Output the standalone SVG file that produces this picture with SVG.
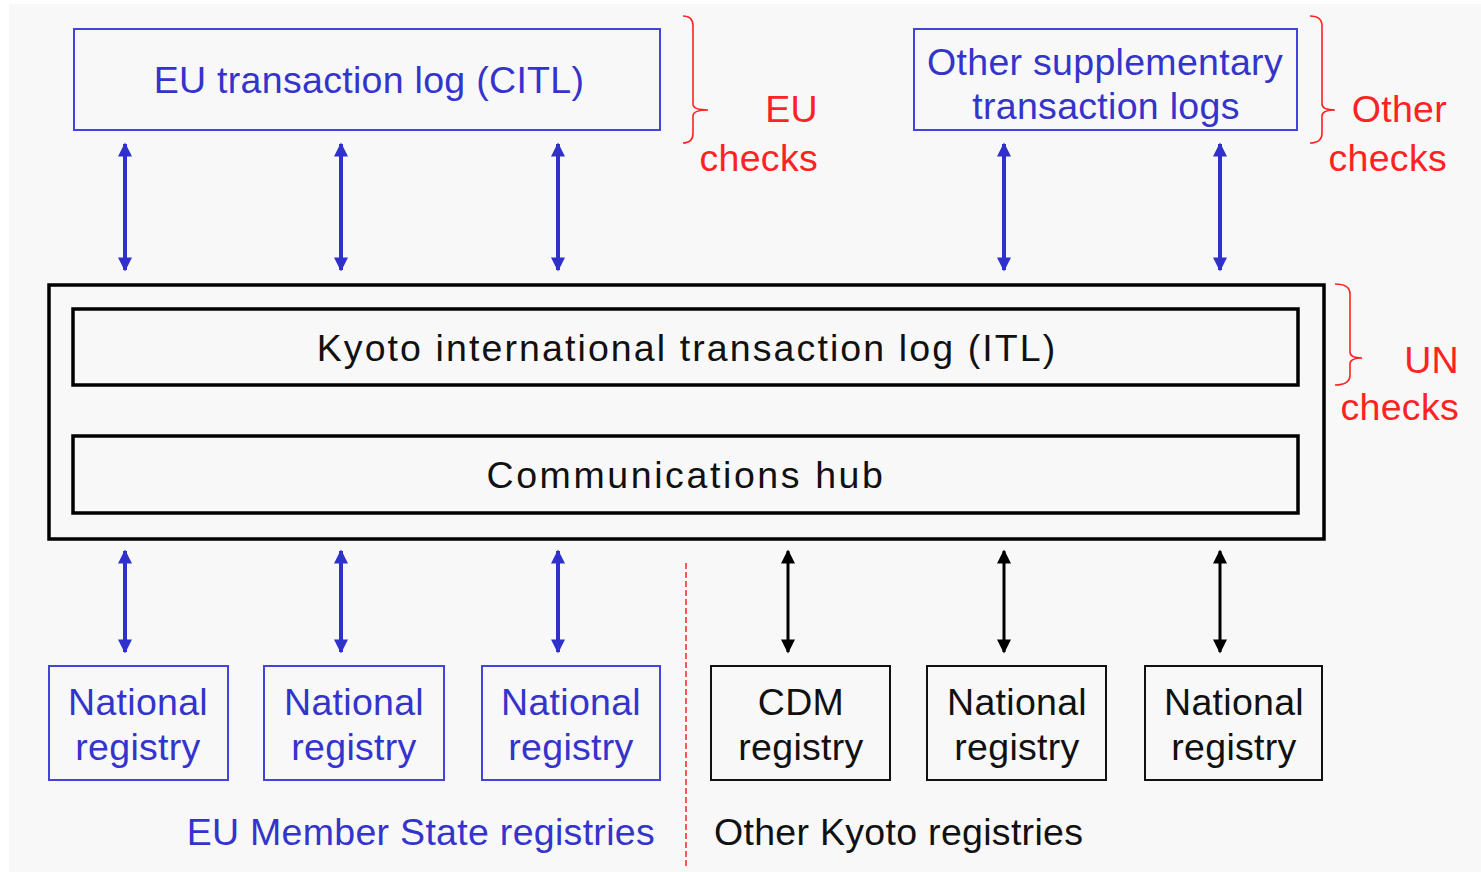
<svg xmlns="http://www.w3.org/2000/svg" width="1481" height="872" viewBox="0 0 1481 872">
<style>
text{font-family:"Liberation Sans",Arial,sans-serif;font-size:37.5px;letter-spacing:0.3px}
.bt{fill:#3434cc}
.kt{fill:#111}
.rt{fill:#ff2222}
.mid{text-anchor:middle}
.bb{fill:none;stroke:#4444dd;stroke-width:2}
.kb{fill:none;stroke:#111;stroke-width:2}
.kb3{fill:none;stroke:#000;stroke-width:3.5}
.brace{fill:none;stroke:#ff2222;stroke-width:1.6}
.ab{stroke:#3030cc;stroke-width:4;marker-start:url(#hb);marker-end:url(#hb)}
.ak{stroke:#000;stroke-width:3;marker-start:url(#hk);marker-end:url(#hk)}
</style>
<defs>
<marker id="hb" viewBox="0 0 10 10" refX="9" refY="5" markerWidth="15" markerHeight="14" markerUnits="userSpaceOnUse" orient="auto-start-reverse"><path d="M0,0 L10,5 L0,10 Z" fill="#3030cc"/></marker>
<marker id="hk" viewBox="0 0 10 10" refX="9" refY="5" markerWidth="15" markerHeight="14" markerUnits="userSpaceOnUse" orient="auto-start-reverse"><path d="M0,0 L10,5 L0,10 Z" fill="#000"/></marker>
</defs>
<rect x="0" y="0" width="1481" height="872" fill="#fff"/>
<rect x="9" y="4" width="1472" height="868" fill="#f8f8f8"/>

<g id="citl"><rect class="bb" x="74" y="29" width="586" height="101"/><text class="bt mid" x="369" y="93">EU transaction log (CITL)</text></g>
<g id="other-logs"><rect class="bb" x="914" y="29" width="383" height="101"/><text class="bt mid" x="1105" y="75">Other supplementary</text><text class="bt mid" x="1106" y="119">transaction logs</text></g>

<g id="eu-checks"><path class="brace" d="M683,16 Q693,16 693,26 L693,104 Q693,110 708,110 Q693,110 693,116 L693,133 Q693,143 683,143"/><text class="rt" x="818" y="122" text-anchor="end">EU</text><text class="rt" x="818" y="171" text-anchor="end">checks</text></g>
<g id="other-checks"><path class="brace" d="M1310,16 Q1322,16 1322,26 L1322,104 Q1322,110 1335,110 Q1322,110 1322,116 L1322,133 Q1322,143 1310,143"/><text class="rt" x="1447" y="122" text-anchor="end">Other</text><text class="rt" x="1447" y="171" text-anchor="end">checks</text></g>
<g id="un-checks"><path class="brace" d="M1335,284 Q1350,284 1350,294 L1350,352 Q1350,358 1362,358 Q1350,358 1350,364 L1350,375 Q1350,385 1335,385"/><text class="rt" x="1459" y="373" text-anchor="end">UN</text><text class="rt" x="1459" y="420" text-anchor="end">checks</text></g>

<g id="itl-system"><rect class="kb3" x="49" y="285" width="1275" height="254"/></g>
<g id="itl"><rect class="kb3" x="73" y="309" width="1225" height="76"/><text class="kt mid" x="687" y="361" style="letter-spacing:2.1px">Kyoto international transaction log (ITL)</text></g>
<g id="hub"><rect class="kb3" x="73" y="436" width="1225" height="77"/><text class="kt mid" x="686" y="488" style="letter-spacing:2.6px">Communications hub</text></g>

<g id="reg-eu-1"><rect class="bb" x="49" y="666" width="179" height="114"/><text class="bt mid" x="138" y="715">National</text><text class="bt mid" x="138" y="760">registry</text></g>
<g id="reg-eu-2"><rect class="bb" x="264" y="666" width="180" height="114"/><text class="bt mid" x="354" y="715">National</text><text class="bt mid" x="354" y="760">registry</text></g>
<g id="reg-eu-3"><rect class="bb" x="482" y="666" width="178" height="114"/><text class="bt mid" x="571" y="715">National</text><text class="bt mid" x="571" y="760">registry</text></g>
<g id="reg-cdm"><rect class="kb" x="711" y="666" width="179" height="114"/><text class="kt mid" x="801" y="715">CDM</text><text class="kt mid" x="801" y="760">registry</text></g>
<g id="reg-other-1"><rect class="kb" x="927" y="666" width="179" height="114"/><text class="kt mid" x="1017" y="715">National</text><text class="kt mid" x="1017" y="760">registry</text></g>
<g id="reg-other-2"><rect class="kb" x="1145" y="666" width="177" height="114"/><text class="kt mid" x="1234" y="715">National</text><text class="kt mid" x="1234" y="760">registry</text></g>

<g id="labels"><text class="bt" x="655" y="845" text-anchor="end">EU Member State registries</text><text class="kt" x="714" y="845">Other Kyoto registries</text></g>

<g id="connectors">
<line class="ab" x1="125" y1="144" x2="125" y2="270"/>
<line class="ab" x1="341" y1="144" x2="341" y2="270"/>
<line class="ab" x1="558" y1="144" x2="558" y2="270"/>
<line class="ab" x1="1004" y1="144" x2="1004" y2="270"/>
<line class="ab" x1="1220" y1="144" x2="1220" y2="270"/>
<line class="ab" x1="125" y1="551" x2="125" y2="652"/>
<line class="ab" x1="341" y1="551" x2="341" y2="652"/>
<line class="ab" x1="558" y1="551" x2="558" y2="652"/>
<line class="ak" x1="788" y1="551" x2="788" y2="652"/>
<line class="ak" x1="1004" y1="551" x2="1004" y2="652"/>
<line class="ak" x1="1220" y1="551" x2="1220" y2="652"/>
<line x1="686" y1="563" x2="686" y2="868" stroke="#ff2222" stroke-width="1.5" stroke-dasharray="6,3"/>
</g>
</svg>
